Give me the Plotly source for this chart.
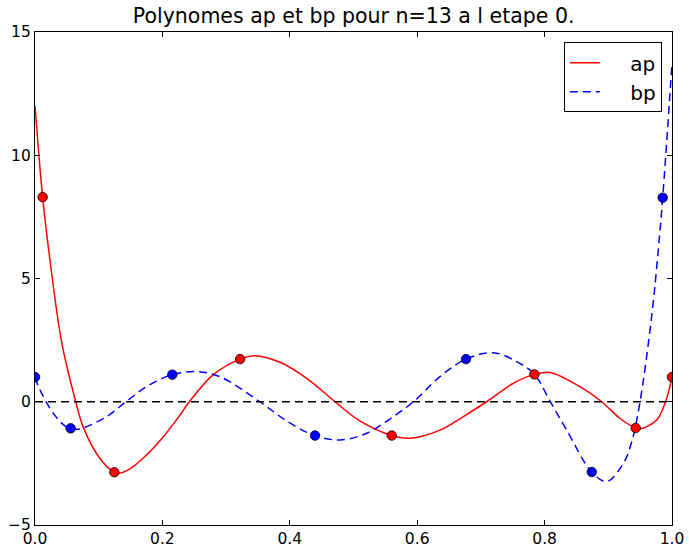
import plotly.graph_objects as go

# Curve samples
ap_x = [0.0, 0.012, 0.0235, 0.042, 0.064, 0.076, 0.102, 0.1245, 0.132, 0.149, 0.175,
        0.2015, 0.2276, 0.2423, 0.28, 0.322, 0.3454, 0.3846, 0.4265, 0.471, 0.51, 0.56,
        0.5887, 0.6358, 0.6724, 0.709, 0.751, 0.784, 0.8085, 0.8556, 0.8896, 0.918,
        0.943, 0.95, 0.976, 0.989, 1.0]
ap_y = [12.0, 8.3, 5.75, 2.4, 0.0, -1.05, -2.3, -2.86, -2.9, -2.72, -2.16,
        -1.42, -0.54, 0.0, 1.1, 1.73, 1.87, 1.6, 0.95, 0.0, -0.78, -1.37,
        -1.48, -1.15, -0.6, 0.0, 0.75, 1.11, 1.19, 0.61, 0.0, -0.67,
        -1.065, -1.1, -0.74, -0.06, 0.98]

bp_x = [0.0, 0.0078, 0.0288, 0.047, 0.056, 0.0706, 0.1125, 0.1429, 0.175, 0.2156,
        0.2538, 0.29, 0.353, 0.395, 0.439, 0.4788, 0.5207, 0.557, 0.594, 0.6358,
        0.6766, 0.7195, 0.756, 0.784, 0.809, 0.8347, 0.874, 0.8974, 0.9236, 0.937,
        0.9498, 0.968, 0.9785, 0.9854, 1.0]
bp_y = [0.98, 0.48, -0.47, -0.98, -1.08, -1.1, -0.6, 0.0, 0.61, 1.1,
        1.22, 1.02, 0.0, -0.78, -1.37, -1.55, -1.28, -0.7, 0.0, 1.02,
        1.73, 1.99, 1.63, 1.11, 0.0, -1.15, -2.85, -3.24, -2.5, -1.6,
        0.0, 3.45, 6.16, 8.28, 13.73]

# Interpolation nodes (dots)
ap_pts_x = [0.012, 0.1245, 0.322, 0.56, 0.784, 0.943, 1.0]
ap_pts_y = [8.3, -2.86, 1.73, -1.37, 1.11, -1.065, 1.0]
bp_pts_x = [0.0, 0.056, 0.2156, 0.4396, 0.6766, 0.874, 0.9854]
bp_pts_y = [1.0, -1.08, 1.1, -1.37, 1.73, -2.85, 8.28]

zero_x = [0.0, 1.0]
zero_y = [0.0, 0.0]

x_ticks = [0.0, 0.2, 0.4, 0.6, 0.8, 1.0]
x_tick_labels = ["0.0", "0.2", "0.4", "0.6", "0.8", "1.0"]
y_ticks = [-5, 0, 5, 10, 15]
y_tick_labels = ["\u22125", "0", "5", "10", "15"]

NB = "\u00a0"
fig = go.Figure()
fig.add_trace(go.Scatter(x=ap_x, y=ap_y, mode="lines", name=NB * 4 + "ap",
                         line=dict(color="red", width=1.5, shape="spline", smoothing=1.0)))
fig.add_trace(go.Scatter(x=bp_x, y=bp_y, mode="lines", name=NB * 4 + "bp",
                         line=dict(color="blue", width=1.5, dash="8px,5px", shape="spline", smoothing=1.0)))
fig.add_trace(go.Scatter(x=zero_x, y=zero_y, mode="lines", showlegend=False,
                         line=dict(color="black", width=1.3, dash="8px,5px")))
fig.add_trace(go.Scatter(x=ap_pts_x, y=ap_pts_y, mode="markers", showlegend=False,
                         marker=dict(color="red", size=9.5, line=dict(color="black", width=0.8))))
fig.add_trace(go.Scatter(x=bp_pts_x, y=bp_pts_y, mode="markers", showlegend=False,
                         marker=dict(color="blue", size=9.5, line=dict(color="black", width=0.8))))

axis_common = dict(showline=True, mirror="ticks", linecolor="black", linewidth=1.3,
                   ticks="inside", ticklen=5, tickcolor="black", tickwidth=1,
                   showgrid=False, zeroline=False, automargin=False,
                   tickfont=dict(family="DejaVu Sans", size=15.5, color="black"))

fig.update_layout(
    width=689, height=547,
    margin=dict(l=35, r=17, t=32, b=22),
    paper_bgcolor="white", plot_bgcolor="white",
    title=dict(text="Polynomes ap et bp pour n=13 a l etape 0.", x=0.5133, xanchor="center",
               y=0.984, yanchor="top",
               font=dict(family="DejaVu Sans", size=20.5, color="black")),
    xaxis=dict(range=[0, 1], tickvals=x_ticks, ticktext=x_tick_labels,
               ticklabelstandoff=-1, **axis_common),
    yaxis=dict(range=[-5, 15], tickvals=y_ticks, ticktext=y_tick_labels, **axis_common),
    legend=dict(x=0.984, y=0.979, xanchor="right", yanchor="top",
                bordercolor="black", borderwidth=1, bgcolor="white",
                font=dict(family="DejaVu Sans", size=20, color="black"),
                itemwidth=30, tracegroupgap=0),
    showlegend=True,
)

fig.write_html("out.html", config={"displayModeBar": False},
               post_script="document.body.style.margin='0';document.body.style.padding='0';")
